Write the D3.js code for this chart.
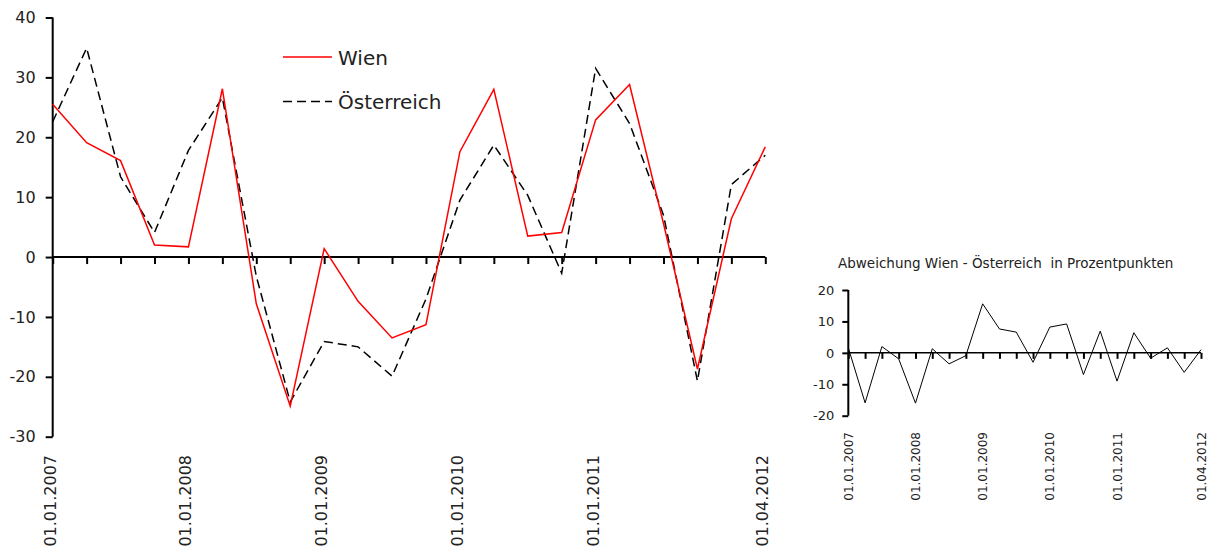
<!DOCTYPE html>
<html><head><meta charset="utf-8">
<script src="https://cdn.jsdelivr.net/npm/d3@7"></script>
<style>body{margin:0;background:#fff}svg{display:block}text{font-family:"DejaVu Sans",sans-serif;fill:#222}</style>
</head><body>
<svg id="c" width="1212" height="546"></svg>
<script>
const quarters = ["01.01.2007","01.04.2007","01.07.2007","01.10.2007","01.01.2008","01.04.2008","01.07.2008","01.10.2008","01.01.2009","01.04.2009","01.07.2009","01.10.2009","01.01.2010","01.04.2010","01.07.2010","01.10.2010","01.01.2011","01.04.2011","01.07.2011","01.10.2011","01.01.2012","01.04.2012"];
const shownLabels = ["01.01.2007","01.01.2008","01.01.2009","01.01.2010","01.01.2011","01.04.2012"];
const wien = [25.5,19.1,16.1,2.0,1.7,28.1,-7.8,-24.9,1.4,-7.4,-13.5,-11.3,17.6,28.0,3.5,4.1,22.9,28.8,5.6,-18.7,6.4,18.4];
const oesterreich = [22.6,34.9,13.4,4.1,17.8,26.6,-3.2,-24.2,-14.1,-15.0,-19.9,-7.0,9.5,18.7,10.3,-2.7,31.5,22.3,7.0,-20.7,12.1,17.0];
const abweichung = [1.6,-15.9,2.0,-1.9,-16.0,1.3,-3.5,-0.9,15.6,7.6,6.6,-3.0,8.2,9.2,-6.9,6.9,-9.0,6.4,-1.7,1.6,-6.2,1.0];
const mainTicks = [-30,-20,-10,0,10,20,30,40];
const smallTicks = [-20,-10,0,10,20];
const seriesNames = ["Wien","Österreich"];
const smallTitle = "Abweichung Wien - Österreich  in Prozentpunkten";

const svg = d3.select("#c");
const fmt = d => String(d);

// ---- main chart ----
const x = d3.scalePoint().domain(quarters).range([52.7, 765.3]);
const y = d3.scaleLinear().domain([-30, 40]).range([436.7, 17.5]);

const yAx = svg.append("g").attr("transform","translate(52.7,0)")
  .call(d3.axisLeft(y).tickValues(mainTicks).tickSize(7).tickPadding(10).tickFormat(fmt));
yAx.select(".domain").attr("stroke","#000").attr("stroke-width",2).attr("d",`M0,${y(40)}V${y(-30)}`);
yAx.selectAll(".tick line").attr("stroke","#000").attr("stroke-width",2);
yAx.selectAll("text").style("font-size","16px").attr("fill","#222");

const xAx = svg.append("g").attr("transform",`translate(0,${y(0)})`)
  .call(d3.axisBottom(x).tickSize(7).tickFormat(""));
xAx.select(".domain").attr("stroke","#000").attr("stroke-width",2).attr("d",`M${x.range()[0]},0H${x.range()[1]}`);
xAx.selectAll(".tick line").attr("stroke","#000").attr("stroke-width",2);

svg.append("g").selectAll("text").data(shownLabels).join("text")
  .attr("transform", d => `translate(${x(d)+3},455) rotate(-90)`)
  .attr("text-anchor","end").style("font-size","16px").text(d => d);

const line = d3.line().x((d,i)=>x(quarters[i])).y(d=>y(d));
svg.append("path").datum(oesterreich).attr("d",line).attr("fill","none")
  .attr("stroke","#000").attr("stroke-width",1.5).attr("stroke-dasharray","9,5");
svg.append("path").datum(wien).attr("d",line).attr("fill","none")
  .attr("stroke","#ff0000").attr("stroke-width",1.5);

// legend
const lg = svg.append("g");
lg.append("line").attr("x1",283).attr("x2",332).attr("y1",57).attr("y2",57).attr("stroke","#ff0000").attr("stroke-width",1.5);
lg.append("line").attr("x1",283).attr("x2",332).attr("y1",101.5).attr("y2",101.5).attr("stroke","#000").attr("stroke-width",1.5).attr("stroke-dasharray","9,5");
lg.selectAll("text").data(seriesNames).join("text")
  .attr("x",338).attr("y",(d,i)=>64.5+i*44.5).style("font-size","20px").text(d=>d);

// ---- small chart ----
const xs = d3.scalePoint().domain(quarters).range([848.3, 1201]);
const ys = d3.scaleLinear().domain([-20, 20]).range([415.7, 290]);

svg.append("text").attr("x",838).attr("y",268).style("font-size","13.5px").style("white-space","pre").text(smallTitle);

const ysAx = svg.append("g").attr("transform","translate(848.3,0)")
  .call(d3.axisLeft(ys).tickValues(smallTicks).tickSize(6).tickPadding(8).tickFormat(fmt));
ysAx.select(".domain").attr("stroke","#000").attr("stroke-width",2).attr("d",`M0,${ys(20)}V${ys(-20)}`);
ysAx.selectAll(".tick line").attr("stroke","#000").attr("stroke-width",2);
ysAx.selectAll("text").style("font-size","13px").attr("fill","#222");

const xsAx = svg.append("g").attr("transform",`translate(0,${ys(0)})`)
  .call(d3.axisBottom(xs).tickSize(6).tickFormat(""));
xsAx.select(".domain").attr("stroke","#000").attr("stroke-width",1.5).attr("d",`M${xs.range()[0]},0H${xs.range()[1]}`);
xsAx.selectAll(".tick line").attr("stroke","#000").attr("stroke-width",2);

svg.append("g").selectAll("text").data(shownLabels).join("text")
  .attr("transform", d => `translate(${xs(d)+4.5},432) rotate(-90)`)
  .attr("text-anchor","end").style("font-size","12px").text(d => d);

const lineS = d3.line().x((d,i)=>xs(quarters[i])).y(d=>ys(d));
svg.append("path").datum(abweichung).attr("d",lineS).attr("fill","none")
  .attr("stroke","#000").attr("stroke-width",1);
</script>
</body></html>
